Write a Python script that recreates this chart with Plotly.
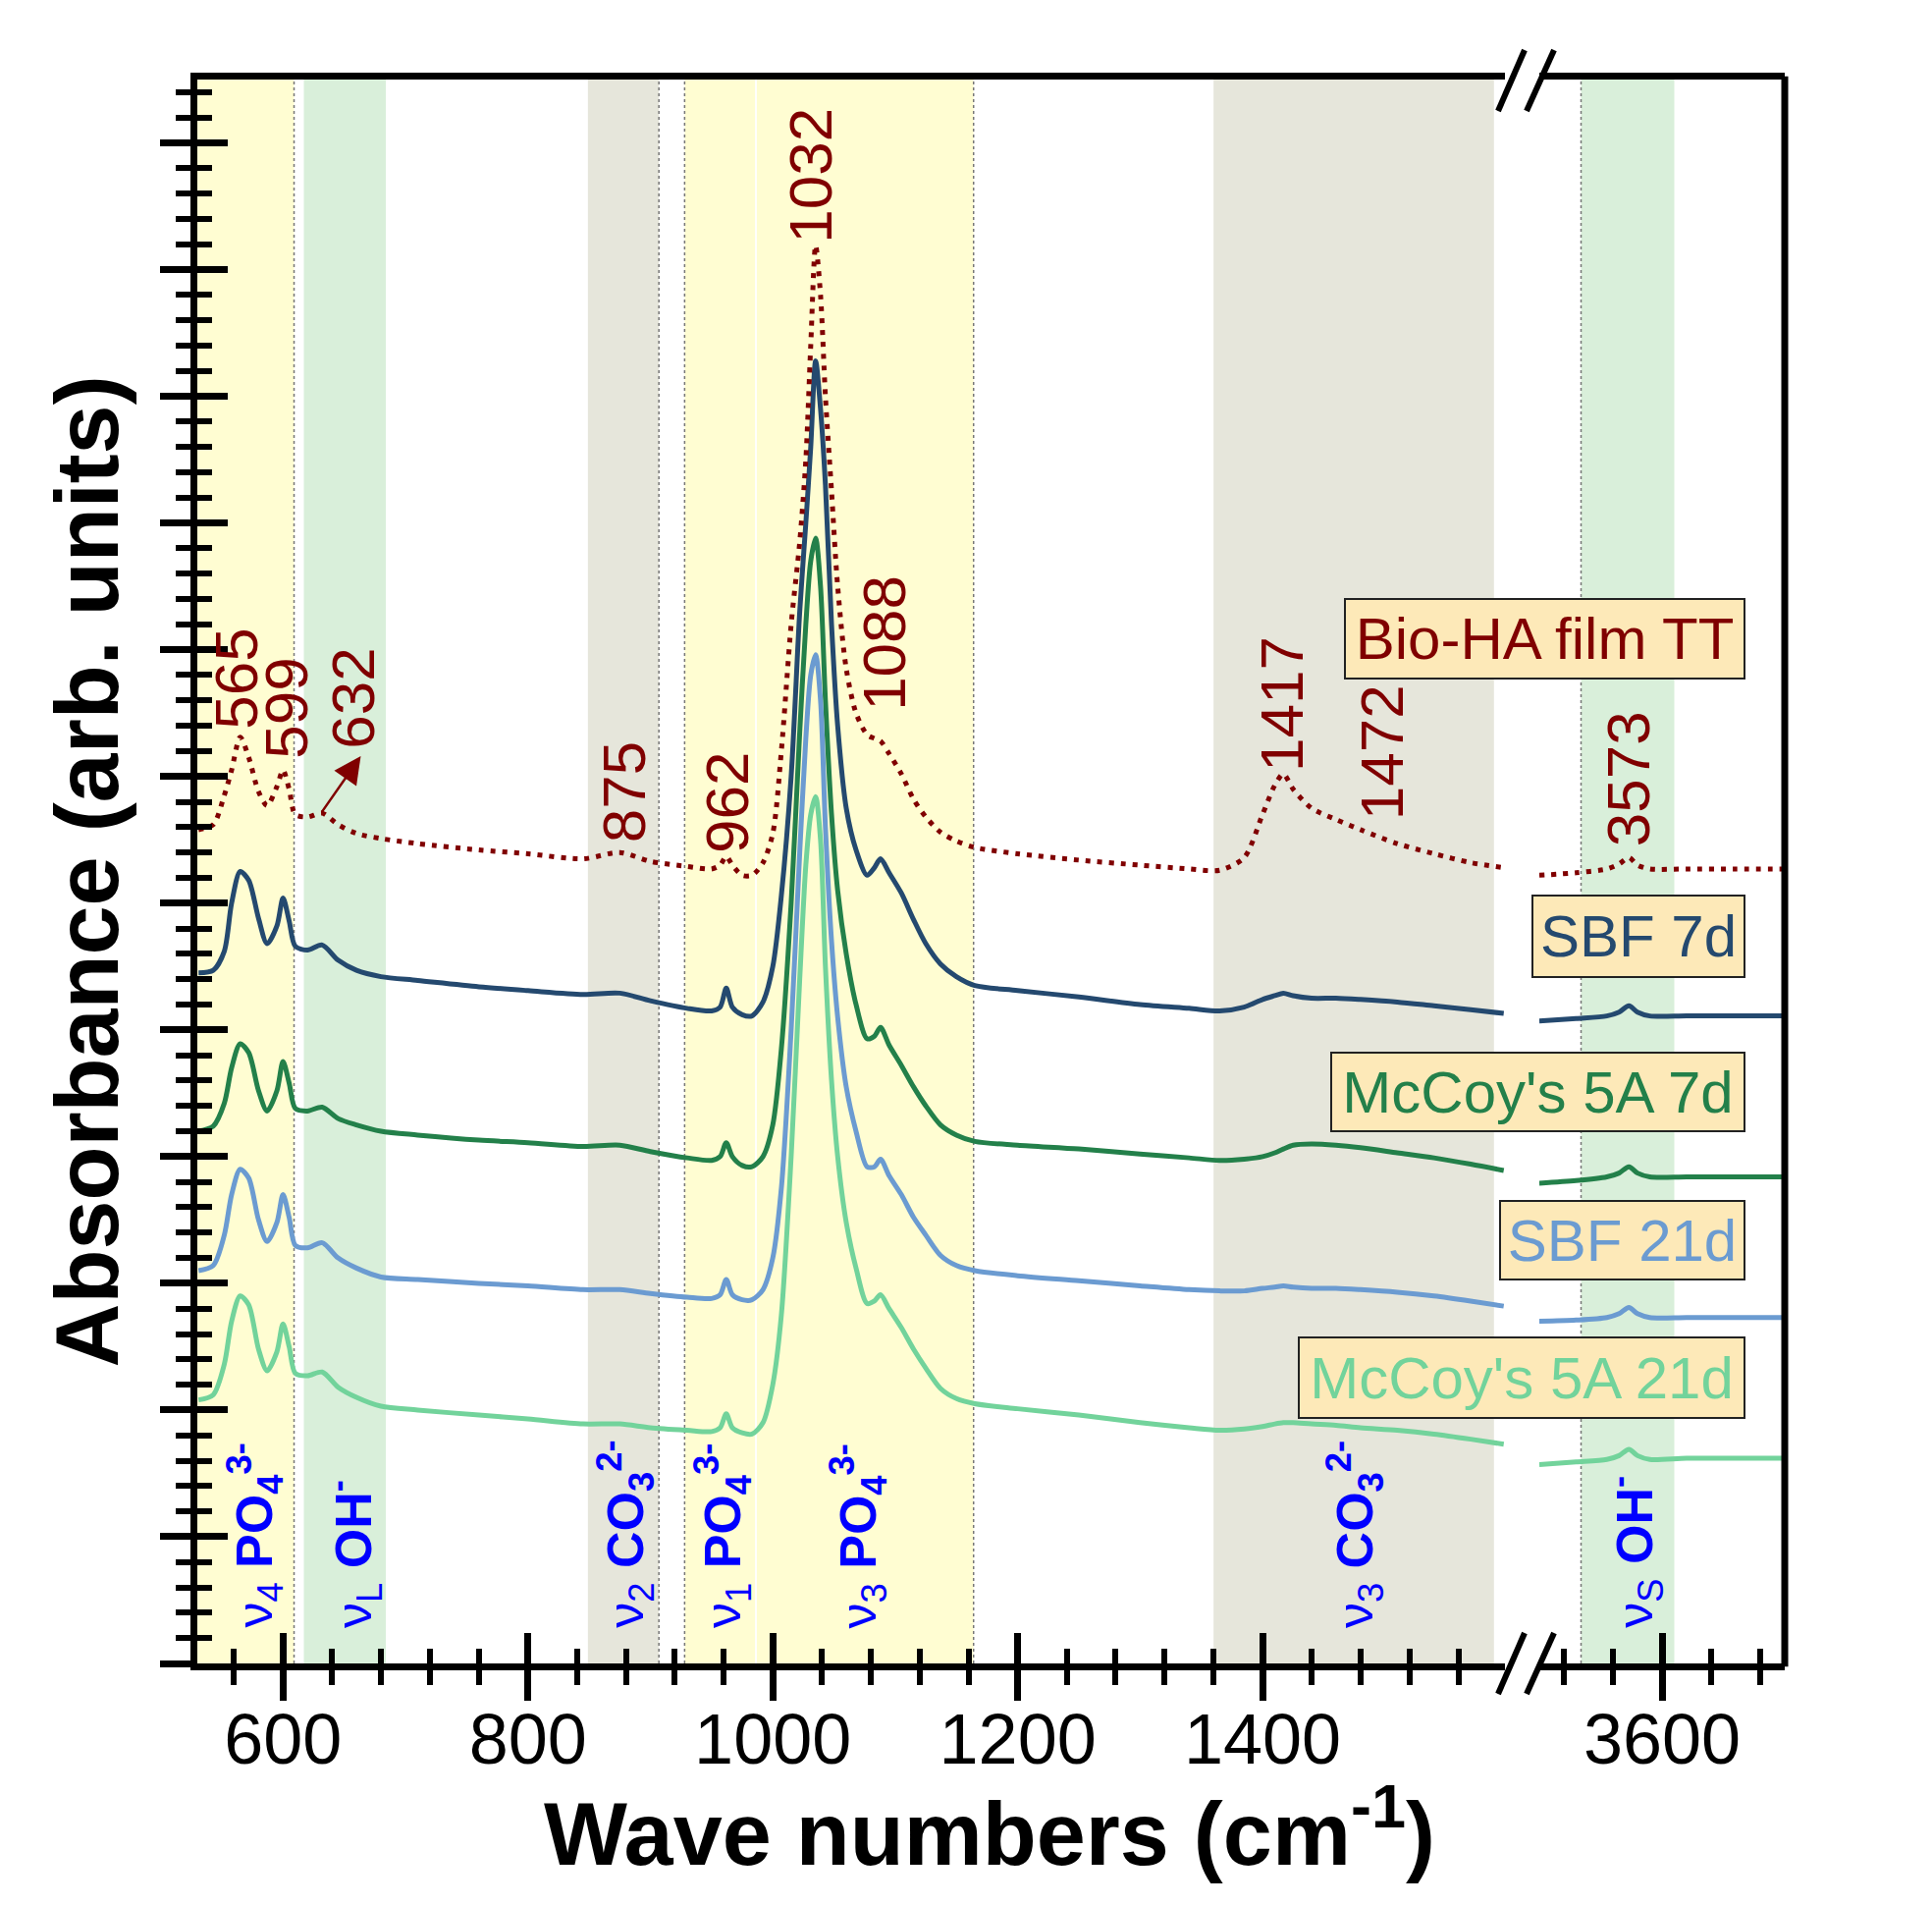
import plotly.graph_objects as go

# wavenumbers (cm-1) of the sampled points, low-range and OH-range segments
wn_low = [531, 543, 552, 558, 565, 572, 580, 587, 595, 600,
          605, 610, 620, 632, 645, 660, 680, 710, 760, 800,
          845, 875, 900, 930, 950, 957, 962, 967, 975, 983,
          992, 1000, 1007, 1015, 1022, 1027, 1031, 1035, 1039, 1043,
          1048, 1053, 1060, 1068, 1077, 1083, 1088, 1095, 1105, 1115,
          1125, 1137, 1150, 1165, 1200, 1250, 1300, 1340, 1365, 1385,
          1400, 1410, 1417, 1425, 1440, 1460, 1480, 1510, 1540, 1570,
          1597]
wn_oh = [3500, 3530, 3555, 3565, 3573, 3580, 3590, 3620, 3660, 3700]

# stacked absorbance (arb. units, offset per sample)
bio_low = [6.58, 6.62, 6.85, 7.05, 7.31, 7.15, 6.88, 6.77, 6.92, 7.05,
           6.90, 6.70, 6.68, 6.71, 6.62, 6.55, 6.51, 6.47, 6.42, 6.39,
           6.35, 6.40, 6.33, 6.29, 6.27, 6.30, 6.37, 6.30, 6.22, 6.22,
           6.32, 6.55, 7.20, 8.20, 8.85, 9.50, 10.4, 11.19, 10.8, 10.0,
           9.25, 8.50, 7.85, 7.50, 7.33, 7.30, 7.28, 7.18, 7.02, 6.82,
           6.68, 6.56, 6.49, 6.44, 6.39, 6.34, 6.30, 6.27, 6.26, 6.36,
           6.70, 6.93, 7.02, 6.90, 6.75, 6.66, 6.58, 6.47, 6.39, 6.32,
           6.28]
bio_oh = [6.22, 6.24, 6.27, 6.31, 6.36, 6.30, 6.27, 6.27, 6.27, 6.27]

sbf7_low = [5.45, 5.47, 5.62, 6.00, 6.25, 6.18, 5.88, 5.68, 5.82, 6.04,
            5.86, 5.66, 5.63, 5.67, 5.55, 5.47, 5.42, 5.39, 5.34, 5.31,
            5.28, 5.29, 5.23, 5.17, 5.15, 5.18, 5.33, 5.18, 5.12, 5.11,
            5.22, 5.50, 6.06, 7.00, 8.30, 9.00, 9.60, 10.28, 9.90, 9.30,
            8.20, 7.40, 6.75, 6.42, 6.22, 6.28, 6.35, 6.24, 6.08, 5.87,
            5.68, 5.52, 5.42, 5.35, 5.31, 5.26, 5.20, 5.17, 5.15, 5.18,
            5.24, 5.27, 5.29, 5.27, 5.25, 5.25, 5.24, 5.22, 5.19, 5.16,
            5.13]
sbf7_oh = [5.07, 5.09, 5.11, 5.14, 5.19, 5.14, 5.11, 5.11, 5.11, 5.11]

mc7_low = [4.20, 4.24, 4.42, 4.70, 4.89, 4.82, 4.52, 4.36, 4.52, 4.75,
           4.58, 4.38, 4.36, 4.39, 4.30, 4.25, 4.20, 4.17, 4.13, 4.11,
           4.08, 4.09, 4.04, 3.99, 3.97, 4.00, 4.11, 4.00, 3.93, 3.92,
           4.00, 4.25, 4.85, 6.00, 7.35, 8.20, 8.70, 8.88, 8.50, 7.60,
           6.70, 6.10, 5.60, 5.20, 4.93, 4.95, 5.02, 4.88, 4.72, 4.55,
           4.40, 4.25, 4.17, 4.12, 4.09, 4.06, 4.02, 3.99, 3.97, 3.98,
           4.00, 4.03, 4.06, 4.09, 4.10, 4.09, 4.07, 4.03, 3.99, 3.94,
           3.89]
mc7_oh = [3.79, 3.81, 3.84, 3.87, 3.92, 3.87, 3.84, 3.84, 3.84, 3.84]

sbf21_low = [3.10, 3.14, 3.38, 3.70, 3.90, 3.83, 3.50, 3.33, 3.48, 3.70,
             3.52, 3.30, 3.28, 3.32, 3.20, 3.12, 3.05, 3.03, 3.00, 2.98,
             2.95, 2.95, 2.92, 2.89, 2.88, 2.91, 3.03, 2.91, 2.87, 2.87,
             2.95, 3.20, 3.75, 5.00, 6.40, 7.30, 7.80, 7.96, 7.60, 6.60,
             5.70, 5.10, 4.55, 4.20, 3.92, 3.92, 3.98, 3.85, 3.70, 3.52,
             3.38, 3.22, 3.14, 3.10, 3.06, 3.02, 2.98, 2.95, 2.94, 2.94,
             2.96, 2.97, 2.98, 2.97, 2.96, 2.96, 2.95, 2.93, 2.90, 2.86,
             2.82]
sbf21_oh = [2.70, 2.71, 2.73, 2.76, 2.81, 2.76, 2.73, 2.73, 2.73, 2.73]

mc21_low = [2.08, 2.12, 2.36, 2.70, 2.90, 2.83, 2.48, 2.31, 2.46, 2.68,
            2.50, 2.29, 2.27, 2.30, 2.18, 2.10, 2.03, 2.00, 1.96, 1.93,
            1.89, 1.89, 1.86, 1.84, 1.83, 1.86, 1.97, 1.86, 1.82, 1.81,
            1.90, 2.20, 2.75, 4.00, 5.40, 6.30, 6.70, 6.84, 6.50, 5.50,
            4.60, 4.00, 3.48, 3.12, 2.84, 2.86, 2.91, 2.80, 2.65, 2.48,
            2.33, 2.17, 2.09, 2.05, 2.01, 1.96, 1.90, 1.86, 1.84, 1.85,
            1.87, 1.89, 1.90, 1.90, 1.89, 1.88, 1.86, 1.84, 1.81, 1.77,
            1.73]
mc21_oh = [1.57, 1.59, 1.61, 1.64, 1.69, 1.64, 1.61, 1.62, 1.62, 1.62]

sample_names = ["SBF 7d", "McCoy's 5A 7d", "SBF 21d", "McCoy's 5A 21d", "Bio-HA film TT"]
sample_low = [sbf7_low, mc7_low, sbf21_low, mc21_low, bio_low]
sample_oh = [sbf7_oh, mc7_oh, sbf21_oh, mc21_oh, bio_oh]
sample_colors = ["#24496F", "#23804A", "#6B9BD1", "#72D39B", "#800000"]

# peak positions written on the Bio-HA curve
peak_labels = ["565", "599", "632", "875", "962", "1032", "1088", "1417", "1472", "3573"]
peak_x = [562, 603, 657, 879, 962, 1030, 1091, 1415, 1497, 3572]
peak_y = [7.36, 7.12, 7.20, 6.46, 6.38, 11.19, 7.50, 7.02, 6.64, 6.43]

# vibration mode regions
band_x0 = [530, 617, 849, 928, 987, 1360, 3534]
band_x1 = [609, 684, 907, 985.5, 1164, 1589, 3610]
band_kind = ["PO4", "OH", "CO3", "PO4", "PO4", "CO3", "OH"]
band_colors = {"PO4": "#FFFDD2", "OH": "#D9EFDA", "CO3": "#E6E6DB"}
edge_lines = [609, 907, 928, 1164, 3534]

mode_labels = ["ν<sub>4</sub> <b>PO<sub>4</sub><sup>3-</sup></b>",
               "ν<sub>L</sub> <b>OH<sup>-</sup></b>",
               "ν<sub>2</sub> <b>CO<sub>3</sub><sup>2-</sup></b>",
               "ν<sub>1</sub> <b>PO<sub>4</sub><sup>3-</sup></b>",
               "ν<sub>3</sub> <b>PO<sub>4</sub><sup>3-</sup></b>",
               "ν<sub>3</sub> <b>CO<sub>3</sub><sup>2-</sup></b>",
               "ν<sub>S</sub> <b>OH<sup>-</sup></b>"]
mode_x = [577, 657, 879, 959, 1070, 1475, 3577]

FONT = "Liberation Sans, Arial, sans-serif"
W, H = 1968, 1940
L, R, T, B = 193, 158, 73, 254
pw, ph = W - L - R, H - T - B


def px(xp):
    return (xp - L) / pw


def py(yp):
    return (H - B - yp) / ph


seg1 = [0, px(1525)]
seg2 = [px(1560), 1]

fig = go.Figure()
for name, lo, hi, col in zip(sample_names, sample_low, sample_oh, sample_colors):
    dotted = name.startswith("Bio")
    line = dict(color=col, width=5, shape="spline", smoothing=0.8)
    if dotted:
        line["dash"] = "5px,7px"
    fig.add_trace(go.Scatter(x=wn_low, y=lo, mode="lines", line=line, name=name,
                             showlegend=False, xaxis="x", yaxis="y"))
    fig.add_trace(go.Scatter(x=wn_oh, y=hi, mode="lines", line=line, name=name,
                             showlegend=False, xaxis="x2", yaxis="y"))
# carriers for the inner tick axes
fig.add_trace(go.Scatter(x=[None], y=[None], xaxis="x3", yaxis="y2", showlegend=False))
fig.add_trace(go.Scatter(x=[None], y=[None], xaxis="x4", yaxis="y2", showlegend=False))

shapes = []
for a, b, k in zip(band_x0, band_x1, band_kind):
    ref = "x2" if a > 3000 else "x"
    shapes.append(dict(type="rect", xref=ref, yref="paper", x0=a, x1=b, y0=0, y1=1,
                       fillcolor=band_colors[k], line_width=0, layer="below"))
for e in edge_lines:
    ref = "x2" if e > 3000 else "x"
    shapes.append(dict(type="line", xref=ref, yref="paper", x0=e, x1=e, y0=0, y1=1,
                       line=dict(color="#777777", width=1.5, dash="dot"), layer="below"))
# right frame
shapes.append(dict(type="line", xref="paper", yref="paper", x0=1, x1=1, y0=-0.002, y1=1.002,
                   line=dict(color="black", width=7)))
# axis break marks
for y_lo, y_hi in [(1717, 1655), (105, 43)]:
    for x_lo, x_hi in [(1518, 1545), (1547, 1575)]:
        shapes.append(dict(type="line", xref="paper", yref="paper",
                           x0=px(x_lo), x1=px(x_hi), y0=py(y_lo), y1=py(y_hi),
                           line=dict(color="black", width=6)))

ann = []
for t, x, y in zip(peak_labels, peak_x, peak_y):
    ann.append(dict(text=t, xref="x2" if x > 3000 else "x", yref="y", x=x, y=y,
                    textangle=-90, xanchor="center", yanchor="bottom", showarrow=False,
                    font=dict(family=FONT, size=62, color="#800000")))
ann.append(dict(text="", xref="x", yref="y", x=663.5, y=7.16, ax=631, ay=6.71,
                axref="x", ayref="y", showarrow=True, arrowhead=2, arrowsize=2.2,
                arrowwidth=2.5, arrowcolor="#800000"))
for t, x in zip(mode_labels, mode_x):
    ann.append(dict(text=t, xref="x2" if x > 3000 else "x", yref="paper", x=x, y=py(1652),
                    textangle=-90, xanchor="center", yanchor="bottom", showarrow=False,
                    font=dict(family=FONT, size=52, color="#0000FF")))

# sample name boxes: right edge, centre y, width, height (px)
box_right = 1770
box_cy = [945.5, 1104, 1255, 1395, 642.5]
box_w = [218, 423, 251, 456, 409]
box_h = [85, 82, 82, 84, 83]
for name, col, cy, bw, bh in zip(sample_names, sample_colors, box_cy, box_w, box_h):
    ann.append(dict(text=name, xref="paper", yref="paper", x=px(box_right), y=py(cy),
                    xanchor="right", yanchor="middle", showarrow=False,
                    width=bw - 4, height=bh - 4, align="center", valign="middle",
                    bgcolor="#FDE9B8", bordercolor="#222222", borderwidth=2, borderpad=0,
                    font=dict(family=FONT, size=60, color=col)))

ann.append(dict(text="<b>Wave numbers (cm<sup>-1</sup>)</b>", xref="paper", yref="paper",
                x=px(1000), y=py(1853), xanchor="center", yanchor="middle", showarrow=False,
                font=dict(family=FONT, size=90, color="black")))
ann.append(dict(text="<b>Absorbance (arb. units)</b>", xref="paper", yref="paper",
                x=px(80), y=0.5, xanchor="center", yanchor="middle", textangle=-90,
                showarrow=False, font=dict(family=FONT, size=90, color="black")))

tick_font = dict(family=FONT, size=72, color="black")
outer = dict(ticks="outside", ticklen=31, tickwidth=7, tickcolor="black",
             showgrid=False, zeroline=False, automargin=False)
inner = dict(ticks="inside", ticklen=31, tickwidth=7, tickcolor="black",
             showgrid=False, zeroline=False, showline=False, showticklabels=False,
             automargin=False)
minor_out = dict(ticks="outside", ticklen=15, tickwidth=6, tickcolor="black", showgrid=False)
minor_in = dict(ticks="inside", ticklen=15, tickwidth=6, tickcolor="black", showgrid=False)

r1 = [530, 1598]
r2 = [3500, 3700]
fig.update_layout(
    width=W, height=H, autosize=False,
    margin=dict(l=L, r=R, t=T, b=B),
    paper_bgcolor="white", plot_bgcolor="white",
    shapes=shapes, annotations=ann,
    xaxis=dict(domain=seg1, range=r1, anchor="y", tick0=0, dtick=200,
               showline=True, linewidth=7, linecolor="black", mirror=True,
               tickfont=tick_font, ticklabelstandoff=-22,
               minor=dict(dtick=40, **minor_out), **outer),
    xaxis2=dict(domain=seg2, range=r2, anchor="y", tick0=3600, dtick=200,
                showline=True, linewidth=7, linecolor="black", mirror=True,
                tickfont=tick_font, ticklabelstandoff=-22,
                minor=dict(dtick=40, **minor_out), **outer),
    xaxis3=dict(overlaying="x", range=r1, anchor="y", tick0=0, dtick=200,
                minor=dict(dtick=40, **minor_in), **inner),
    xaxis4=dict(overlaying="x2", range=r2, anchor="y", tick0=3600, dtick=200,
                minor=dict(dtick=40, **minor_in), **inner),
    yaxis=dict(domain=[0, 1], range=[0, 12.5], anchor="x", tick0=0, dtick=1,
               showline=True, linewidth=7, linecolor="black", showticklabels=False,
               minor=dict(dtick=0.2, **minor_out), **outer),
    yaxis2=dict(overlaying="y", range=[0, 12.5], anchor="x", tick0=0, dtick=1,
                minor=dict(dtick=0.2, **minor_in), **inner),
)

fig.write_html("out.html")
